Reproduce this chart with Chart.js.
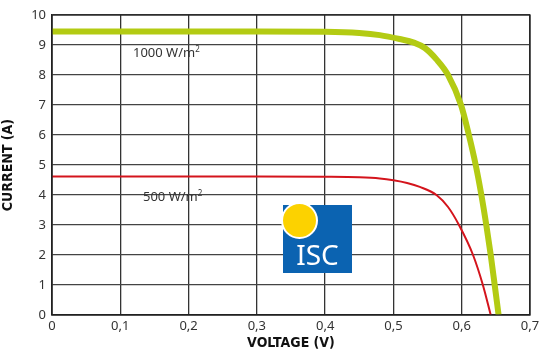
<!DOCTYPE html>
<html>
<head>
<meta charset="utf-8">
<script src="https://cdn.jsdelivr.net/npm/chart.js@4"></script>
<style>
  html, body { margin: 0; padding: 0; background: #fff; }
  #wrap { position: relative; width: 543px; height: 352px; }
  .lbl { position: absolute; font: 13px "Noto Sans", sans-serif; color: #333; white-space: nowrap; }
  .lbl sup { font-size: 8px; }
  #logo { position: absolute; left: 283px; top: 205px; width: 69px; height: 68px; background: #0b63b1; }
  #sun { position: absolute; left: -2px; top: -3px; width: 33px; height: 33px; border-radius: 50%; background: #fcd200; border: 2px solid #fff; }
  #isc { position: absolute; left: 0; right: 0; bottom: 0px; text-align: center; color: #fff; font: 28px "Noto Sans", sans-serif; }
</style>
</head>
<body>
<div id="wrap">
  <canvas id="ivChart" width="543" height="352"></canvas>
  <div class="lbl" style="left:133px; top:43px;">1000 W/m<sup>2</sup></div>
  <div class="lbl" style="left:143px; top:187px;">500 W/m<sup>2</sup></div>
  <div id="logo"><div id="sun"></div><div id="isc">ISC</div></div>
</div>
<script>
// 1000 W/m2 curve
const voltage1000 = [0, 0.1, 0.2, 0.3, 0.4, 0.45, 0.48, 0.509, 0.53, 0.546, 0.563, 0.580, 0.599, 0.6105, 0.6205, 0.6288, 0.636, 0.6425, 0.6483, 0.654];
const current1000 = [9.45, 9.45, 9.45, 9.45, 9.44, 9.40, 9.33, 9.2, 9.08, 8.9, 8.52, 8.0, 7.0, 6.0, 5.0, 4.0, 3.0, 2.0, 1.0, 0];

// 500 W/m2 curve
const voltage500 = [0, 0.1, 0.2, 0.3, 0.4, 0.45, 0.48, 0.50, 0.52, 0.5386, 0.563, 0.58, 0.596, 0.6166, 0.631, 0.6425];
const current500 = [4.62, 4.62, 4.62, 4.62, 4.61, 4.59, 4.55, 4.49, 4.40, 4.27, 4.0, 3.6, 3.0, 2.0, 1.0, 0];

const xTicks = [0, 0.1, 0.2, 0.3, 0.4, 0.5, 0.6, 0.7];
const yTicks = [0, 1, 2, 3, 4, 5, 6, 7, 8, 9, 10];

const toPoints = (xs, ys) => xs.map((x, i) => ({ x: x, y: ys[i] }));

const tickFont = { family: '"Noto Sans", sans-serif', size: 13 };
const titleFont = { family: '"Liberation Sans Narrow", "DejaVu Sans Condensed", sans-serif', size: 14, weight: 'bold' };

new Chart(document.getElementById('ivChart').getContext('2d'), {
    type: 'line',
    data: {
        datasets: [{
            data: toPoints(voltage1000, current1000),
            borderColor: '#b3cb13',
            borderWidth: 6,
            pointRadius: 0,
            cubicInterpolationMode: 'monotone'
        }, {
            data: toPoints(voltage500, current500),
            borderColor: '#d4141c',
            borderWidth: 2,
            pointRadius: 0,
            cubicInterpolationMode: 'monotone'
        }]
    },
    options: {
        responsive: false,
        animation: false,
        layout: { padding: { top: 15, right: 13, left: 0, bottom: 0 } },
        plugins: { legend: { display: false }, tooltip: { enabled: false } },
        scales: {
            x: {
                type: 'linear',
                min: 0, max: 0.7,
                afterBuildTicks: s => { s.ticks = xTicks.map(v => ({ value: v })); },
                afterFit: s => { s.height = 37; s.paddingLeft = 0; s.paddingRight = 0; },
                grid: { color: '#333', lineWidth: 1.3, drawTicks: false },
                border: { color: '#222', width: 1.3 },
                ticks: {
                    color: '#333', font: tickFont, padding: 3,
                    callback: v => String(v).replace('.', ',')
                },
                title: { display: true, text: 'VOLTAGE (V)', color: '#111', font: titleFont, padding: { top: 0, bottom: 0 } }
            },
            y: {
                min: 0, max: 10,
                afterBuildTicks: s => { s.ticks = yTicks.map(v => ({ value: v })); },
                afterFit: s => { s.width = 52; },
                grid: { color: '#444', lineWidth: 1.3, drawTicks: false },
                border: { color: '#222', width: 1.3 },
                ticks: { color: '#333', font: tickFont, padding: 6 },
                title: { display: true, text: 'CURRENT (A)', color: '#111', font: titleFont, padding: { top: 0, bottom: 2 } }
            }
        }
    },
    plugins: [{
        id: 'frame',
        afterDraw(chart) {
            const { ctx, chartArea: a } = chart;
            ctx.save();
            ctx.strokeStyle = '#222';
            ctx.lineWidth = 1.3;
            ctx.strokeRect(a.left, a.top, a.right - a.left, a.bottom - a.top);
            ctx.restore();
        }
    }]
});
</script>
</body>
</html>
